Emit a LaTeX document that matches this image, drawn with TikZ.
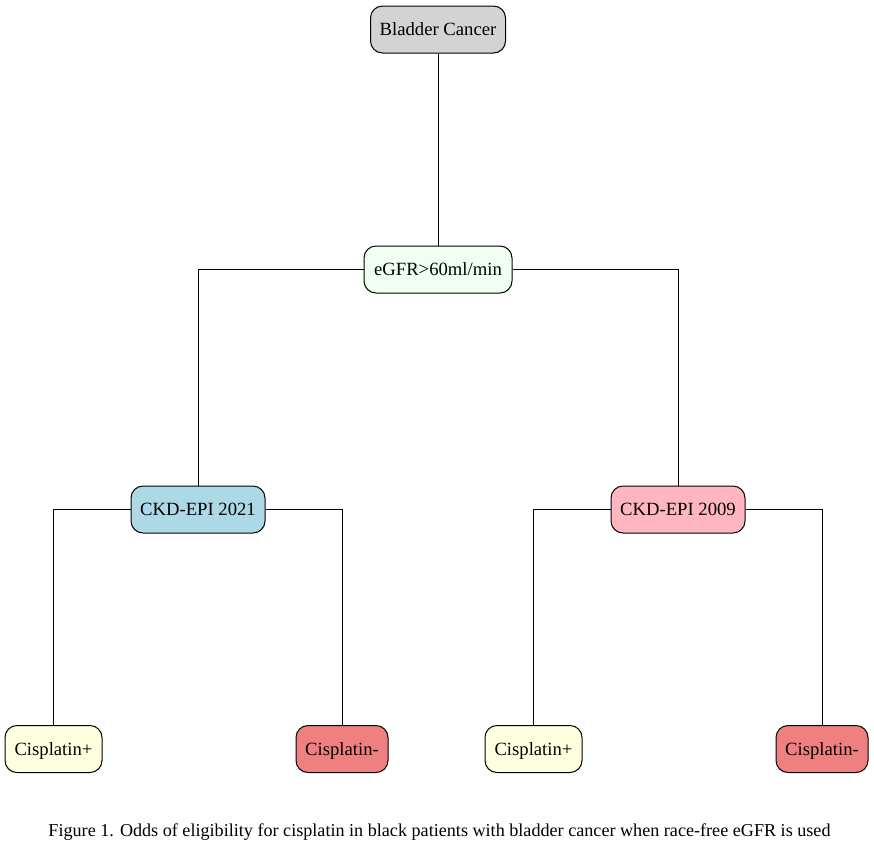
\documentclass[tikz,border=0pt]{standalone}
\usepackage{fontspec}
\setmainfont{Liberation Serif}
\definecolor{cgray}{RGB}{211,211,211}
\definecolor{choney}{RGB}{240,255,240}
\definecolor{cblue}{RGB}{173,216,230}
\definecolor{cpink}{RGB}{255,182,193}
\definecolor{cyellow}{RGB}{255,255,224}
\definecolor{ccoral}{RGB}{240,128,128}
\begin{document}
\begin{tikzpicture}[x=0.75pt,y=-0.75pt,
  box/.style={draw=black, line width=0.75pt, rounded corners=9pt,
    minimum height=35.25pt, inner sep=0pt, text depth=0pt, text height=9.5pt,
    font=\fontsize{14}{17}\selectfont},
  link/.style={draw=black, line width=0.75pt}]
\useasboundingbox (0,0) rectangle (874,854);
% tree nodes
\node[box, fill=cgray, minimum width=101.25pt] (bc) at (438,29.5) {Bladder Cancer};
\node[box, fill=choney, minimum width=111pt] (egfr) at (438,269.5) {eGFR>60ml/min};
\node[box, fill=cblue, minimum width=100.5pt] (k21) at (198,509.5) {CKD-EPI 2021};
\node[box, fill=cpink, minimum width=100.5pt] (k09) at (678,509.5) {CKD-EPI 2009};
\node[box, fill=cyellow, minimum width=72.75pt] (p1) at (53.5,749) {Cisplatin+};
\node[box, fill=ccoral, minimum width=69pt] (m1) at (342,749) {Cisplatin-};
\node[box, fill=cyellow, minimum width=72.75pt] (p2) at (533.5,749) {Cisplatin+};
\node[box, fill=ccoral, minimum width=69pt] (m2) at (822,749) {Cisplatin-};
% connectors
\draw[link] (bc.south) -- (egfr.north);
\draw[link] (egfr.west) -| (k21.north);
\draw[link] (egfr.east) -| (k09.north);
\draw[link] (k21.west) -| (p1.north);
\draw[link] (k21.east) -| (m1.north);
\draw[link] (k09.west) -| (p2.north);
\draw[link] (k09.east) -| (m2.north);
% caption
\node[font=\fontsize{13.6}{16}\selectfont] (cap) at (439.5,832) {Figure 1. Odds of eligibility for cisplatin in black patients with bladder cancer when race-free eGFR is used};
\end{tikzpicture}
\end{document}
